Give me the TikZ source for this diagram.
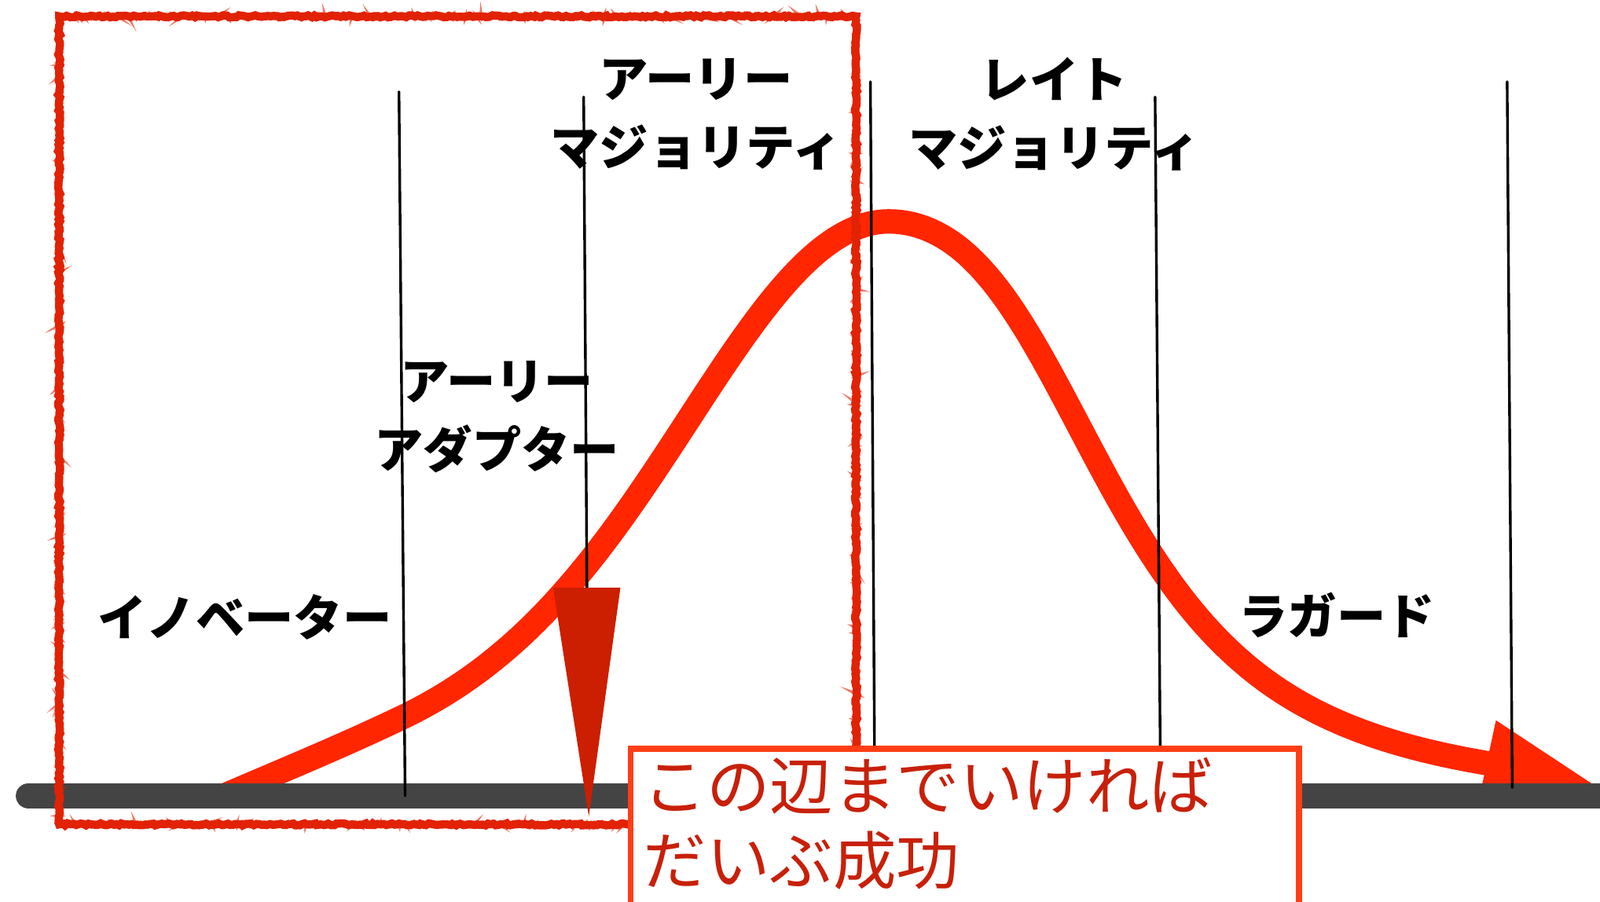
\documentclass[tikz,border=0pt]{standalone}
\usepackage{fontspec}
\newfontfamily\jpfont{Noto Sans CJK JP}
\usetikzlibrary{decorations.pathmorphing}
\definecolor{curvered}{RGB}{255,38,0}
\definecolor{roughred}{RGB}{226,34,4}
\definecolor{darkred}{RGB}{204,30,0}
\definecolor{calloutborder}{RGB}{255,62,22}
\definecolor{callouttext}{RGB}{200,32,10}
\definecolor{axisgray}{RGB}{68,68,68}
\begin{document}
\begin{tikzpicture}[x=0.5pt,y=-0.5pt,
  declare function={gl(\d)=0.11*\d*\d+0.006*\d*\d*\d*\d; gr(\d)=0.09*\d*\d+0.022*\d*\d*\d*\d/(1+0.05*\d*\d);},
  lbl/.style={font=\jpfont\bfseries\fontsize{24pt}{33.5pt}\selectfont, align=center, inner sep=0pt, text=black},
  vline/.style={line width=1.3pt, black, line cap=round},
  bell/.style={line width=12pt, curvered, line join=round},
  roughbox/.style={roughred, line width=4pt, decorate, decoration={random steps, segment length=1.3pt, amplitude=0.5pt}},
  calloutbox/.style={draw=calloutborder, line width=2.9pt, fill=white, anchor=north west, minimum width=327.5pt, minimum height=110pt, inner sep=0pt},
  callouttxt/.style={font=\jpfont\fontsize{31pt}{36.5pt}\selectfont, text=callouttext, align=left, anchor=north west, inner sep=0pt}
]
\useasboundingbox (0,0) rectangle (1568,884);
% bell curve
\begin{scope}
\clip (0,0) rectangle (1568,781);
\coordinate (cs) at (185,795);
\coordinate (cj) at (394,703.2);
\draw[bell] (cs) .. controls (255,764) and (324,736.8) .. (cj)
  -- plot[domain=394:871, samples=100] (\x,{790-573/(1+gl((871-\x)/100))})
  -- plot[domain=871:1460, samples=100] (\x,{790-573/(1+gr((\x-871)/100))});
\end{scope}
\coordinate (ahA) at (1466,706);
\coordinate (ahB) at (1575,778);
\coordinate (ahC) at (1448,790);
\fill[curvered] (ahA) -- (ahB) -- (ahC) -- cycle;
% axis
\coordinate (axL) at (28,780);
\coordinate (axR) at (1600,780);
\draw[axisgray, line width=12.5pt, line cap=round] (axL) -- (axR);
% vertical lines
\coordinate (v1t) at (391,90);  \coordinate (v1b) at (397,780);
\coordinate (v2t) at (572,95);  \coordinate (v2b) at (576,700);
\coordinate (v3t) at (853,80);  \coordinate (v3b) at (857,732);
\coordinate (v4t) at (1132,95); \coordinate (v4b) at (1137,732);
\coordinate (v5t) at (1477,80); \coordinate (v5b) at (1482,772);
\draw[vline] (v1t) -- (v1b);
\draw[vline] (v2t) -- (v2b);
\draw[vline] (v3t) -- (v3b);
\draw[vline] (v4t) -- (v4b);
\draw[vline] (v5t) -- (v5b);
% dark red pointer
\coordinate (trL) at (542,576);
\coordinate (trR) at (608,576);
\coordinate (trT) at (577,800);
\fill[darkred] (trL) -- (trR) -- (trT) -- cycle;
% hand-drawn box
\coordinate (bx1) at (58,16);
\coordinate (bx2) at (839,16);
\coordinate (bx3) at (839,808);
\coordinate (bx4) at (58,808);
\draw[roughbox] (bx1) -- (bx2) -- (bx3) -- (bx4) -- cycle;
\draw[roughbox, line width=1.6pt, opacity=0.6, decoration={random steps, segment length=0.8pt, amplitude=1pt}] (bx1) -- (bx2) -- (bx3) -- (bx4) -- cycle;
% labels
\node[lbl] (am) at (682,112) {アーリー\\マジョリティ};
\node[lbl] (lm) at (1033,112) {レイト\\マジョリティ};
\node[lbl] (ea) at (487,409) {アーリー\\アダプター};
\node[lbl] (inn) at (240,605) {イノベーター};
\node[lbl] (lag) at (1310,603) {ラガード};
% callout
\node[calloutbox] (co) at (615,731) {};
\node[callouttxt] (ct) at (630,742) {この辺までいければ\\だいぶ成功};
\end{tikzpicture}
\end{document}
